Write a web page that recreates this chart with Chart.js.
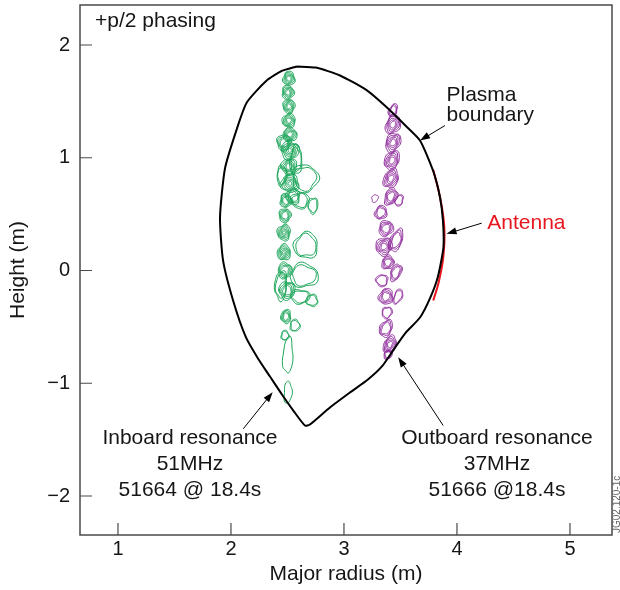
<!DOCTYPE html>
<html>
<head>
<meta charset="utf-8">
<title>+p/2 phasing</title>
<script src="https://cdn.jsdelivr.net/npm/chart.js@4/dist/chart.umd.min.js"></script>
<style>
html,body{margin:0;padding:0;background:#fff;}
#wrap{width:620px;height:590px;}
</style>
</head>
<body>
<div id="wrap"><canvas id="plasmaChart" width="620" height="590"></canvas></div>
<script>

// axis ticks
const xTicks = [1, 2, 3, 4, 5];
const yTicks = [-2, -1, 0, 1, 2];

// plasma boundary (major radius, height in m), closed loop
const boundaryR = [2.58, 2.75, 2.965, 3.2, 3.378, 3.55, 3.673, 3.788, 3.85, 3.876, 3.88, 3.83, 3.76, 3.673,
    3.54, 3.434, 3.336, 3.212, 3.053, 2.876, 2.699, 2.655, 2.558, 2.451, 2.345, 2.239, 2.133, 2.02,
    1.93, 1.903, 1.947, 2.05, 2.14, 2.316, 2.45, 2.58];
const boundaryZ = [1.81, 1.80, 1.73, 1.6, 1.448, 1.28, 1.153, 0.887, 0.65, 0.443, 0.204, -0.06, -0.25, -0.417,
    -0.559, -0.71, -0.851, -0.967, -1.082, -1.215, -1.366, -1.375, -1.251, -1.1, -0.94, -0.78, -0.594, -0.27,
    0.09, 0.47, 0.905, 1.25, 1.49, 1.685, 1.77, 1.81];

// antenna strap
const antennaR = [3.79, 3.85, 3.888, 3.879, 3.835, 3.79];
const antennaZ = [0.893, 0.65, 0.384, 0.118, -0.118, -0.266];

// inboard resonance (51MHz) contour groups: centre, half extent (m), number of levels
const inboardR = [2.513, 2.504, 2.513, 2.513, 2.522, 2.522, 2.513, 2.522, 2.487, 2.478, 2.469, 2.469, 2.478,
    2.496, 2.487, 2.478, 2.655, 2.611, 2.664, 2.646, 2.611, 2.442, 2.504, 2.504,
    2.469, 2.549, 2.575, 2.451, 2.726, 2.717, 2.566];
const inboardZ = [1.703, 1.579, 1.455, 1.330, 1.206, 1.064, 0.922, 0.772, 0.621, 0.488, 0.337, 0.160, 0.0,
    -0.177, -0.408, -0.576, 0.816, 0.621, 0.222, -0.044, -0.231, -0.133, -0.754, -1.082,
    1.135, 0.656, 0.976, 0.843, 0.576, -0.266, -0.488];
const inboardHalfR = [0.053, 0.053, 0.053, 0.058, 0.062, 0.080, 0.071, 0.080, 0.053, 0.053, 0.058, 0.058, 0.062,
    0.071, 0.044, 0.035, 0.115, 0.080, 0.106, 0.124, 0.088, 0.053, 0.044, 0.035,
    0.062, 0.062, 0.053, 0.044, 0.044, 0.053, 0.044];
const inboardHalfZ = [0.062, 0.062, 0.062, 0.062, 0.062, 0.080, 0.071, 0.080, 0.062, 0.062, 0.071, 0.071, 0.071,
    0.080, 0.062, 0.044, 0.124, 0.071, 0.115, 0.106, 0.062, 0.133, 0.160, 0.098,
    0.071, 0.071, 0.133, 0.089, 0.071, 0.053, 0.053];
const inboardLevels = [5, 5, 5, 5, 5, 6, 5, 6, 4, 4, 6, 6, 4, 4, 4, 2, 2, 2, 2, 2, 2, 2, 1, 1,
    4, 3, 2, 2, 2, 2, 2];

// outboard resonance (37MHz) contour groups
const outboardR = [3.434, 3.434, 3.434, 3.425, 3.416, 3.416, 3.274, 3.487, 3.327, 3.372, 3.354, 3.460, 3.389,
    3.460, 3.336, 3.372, 3.478, 3.381, 3.372, 3.407, 3.389];
const outboardZ = [1.419, 1.295, 1.135, 0.976, 0.816, 0.656, 0.639, 0.621, 0.514, 0.373, 0.213, 0.266, 0.071,
    -0.018, -0.089, -0.231, -0.231, -0.373, -0.514, -0.656, -0.745];
const outboardHalfR = [0.035, 0.062, 0.062, 0.062, 0.062, 0.053, 0.027, 0.035, 0.053, 0.062, 0.071, 0.053, 0.053,
    0.044, 0.053, 0.062, 0.035, 0.044, 0.053, 0.053, 0.035];
const outboardHalfZ = [0.062, 0.089, 0.089, 0.089, 0.089, 0.080, 0.035, 0.053, 0.062, 0.071, 0.080, 0.106, 0.062,
    0.080, 0.053, 0.071, 0.071, 0.053, 0.080, 0.080, 0.044];
const outboardLevels = [3, 5, 5, 5, 5, 4, 1, 2, 3, 4, 5, 3, 4, 3, 2, 4, 2, 2, 3, 5, 3];

const FONT = "'Liberation Sans', Arial, Helvetica, sans-serif";
const INK = "#161616";

function zip(a, b) {
    return a.map((v, i) => ({x: v, y: b[i]}));
}

// nested, slightly wavy contour loops around each group centre
function drawContours(ctx, xs, ys, R, Z, hr, hz, lv, color, tilt) {
    ctx.strokeStyle = color;
    ctx.lineWidth = 1;
    for (let i = 0; i < R.length; i++) {
        const cx = xs.getPixelForValue(R[i]);
        const cy = ys.getPixelForValue(Z[i]);
        const rx = Math.abs(xs.getPixelForValue(R[i] + hr[i]) - cx);
        const ry = Math.abs(ys.getPixelForValue(Z[i] + hz[i]) - cy);
        const cosT = Math.cos(tilt), sinT = Math.sin(tilt);
        for (let k = 0; k < lv[i]; k++) {
            const f = 1 - k * 0.16;
            ctx.beginPath();
            for (let s = 0; s <= 48; s++) {
                const t = s / 48 * Math.PI * 2;
                const w = 1 + 0.09 * Math.sin(3 * t + i * 1.7 + k) + 0.05 * Math.sin(5 * t + i * 0.9);
                const ex = Math.cos(t) * rx * f * w;
                const ey = Math.sin(t) * ry * f * w;
                const x = cx + ex * cosT - ey * sinT;
                const y = cy + ex * sinT + ey * cosT;
                if (s === 0) ctx.moveTo(x, y); else ctx.lineTo(x, y);
            }
            ctx.stroke();
        }
    }
}

function arrow(ctx, x1, y1, x2, y2) {
    const a = Math.atan2(y2 - y1, x2 - x1);
    ctx.strokeStyle = "#000";
    ctx.fillStyle = "#000";
    ctx.lineWidth = 1;
    ctx.beginPath();
    ctx.moveTo(x1, y1);
    ctx.lineTo(x2 - 6 * Math.cos(a), y2 - 6 * Math.sin(a));
    ctx.stroke();
    ctx.beginPath();
    ctx.moveTo(x2, y2);
    ctx.lineTo(x2 - 10 * Math.cos(a) + 3.5 * Math.sin(a), y2 - 10 * Math.sin(a) - 3.5 * Math.cos(a));
    ctx.lineTo(x2 - 10 * Math.cos(a) - 3.5 * Math.sin(a), y2 - 10 * Math.sin(a) + 3.5 * Math.cos(a));
    ctx.closePath();
    ctx.fill();
}

const overlay = {
    id: "overlay",
    beforeDatasetsDraw(chart) {
        const ctx = chart.ctx;
        const xs = chart.scales.x, ys = chart.scales.y;
        ctx.save();
        drawContours(ctx, xs, ys, inboardR, inboardZ, inboardHalfR, inboardHalfZ, inboardLevels, "#17a356", 0.05);
        drawContours(ctx, xs, ys, outboardR, outboardZ, outboardHalfR, outboardHalfZ, outboardLevels, "#8f2c9c", 0.42);
        ctx.restore();
    },
    afterDraw(chart) {
        const ctx = chart.ctx;
        const a = chart.chartArea;
        const xs = chart.scales.x, ys = chart.scales.y;
        const px = v => xs.getPixelForValue(v);
        const py = v => ys.getPixelForValue(v);
        ctx.save();

        // frame
        ctx.strokeStyle = "#4a4a4a";
        ctx.lineWidth = 1.5;
        ctx.strokeRect(a.left, a.top, a.right - a.left, a.bottom - a.top);

        // inward tick marks
        ctx.lineWidth = 1.2;
        ctx.beginPath();
        xTicks.forEach(v => { ctx.moveTo(px(v), a.bottom); ctx.lineTo(px(v), a.bottom - 12); });
        yTicks.forEach(v => { ctx.moveTo(a.left, py(v)); ctx.lineTo(a.left + 12, py(v)); });
        ctx.stroke();

        // arrows
        arrow(ctx, px(3.894), py(1.286), px(3.673), py(1.153));
        arrow(ctx, px(4.219), py(0.42), px(3.908), py(0.325));
        arrow(ctx, px(2.109), py(-1.404), px(2.369), py(-1.079));
        arrow(ctx, px(3.878), py(-1.375), px(3.48), py(-0.769));

        // labels
        ctx.font = "21px " + FONT;
        ctx.fillStyle = INK;
        ctx.textBaseline = "alphabetic";
        ctx.textAlign = "left";
        ctx.fillText("+p/2 phasing", a.left + 15, a.top + 22);
        ctx.fillText("Plasma", px(3.907), py(1.504));
        ctx.fillText("boundary", px(3.907), py(1.322));
        ctx.fillStyle = "#e8161e";
        ctx.fillText("Antenna", px(4.268), py(0.3725));
        ctx.fillStyle = INK;
        ctx.textAlign = "center";
        ctx.fillText("Inboard resonance", px(1.637), py(-1.539));
        ctx.fillText("51MHz", px(1.637), py(-1.769));
        ctx.fillText("51664 @ 18.4s", px(1.637), py(-1.996));
        ctx.fillText("Outboard resonance", px(4.354), py(-1.539));
        ctx.fillText("37MHz", px(4.354), py(-1.769));
        ctx.fillText("51666 @18.4s", px(4.354), py(-1.996));

        // figure reference code along the right edge
        ctx.translate(617, 533);
        ctx.rotate(-Math.PI / 2);
        ctx.font = "10px " + FONT;
        ctx.fillStyle = "#666";
        ctx.textBaseline = "middle";
        ctx.textAlign = "left";
        ctx.fillText("JG02.120-1c", 0, 0);
        ctx.restore();
    }
};

const ctx = document.getElementById("plasmaChart").getContext("2d");

new Chart(ctx, {
    type: "scatter",
    data: {
        datasets: [
            {
                label: "Plasma boundary",
                data: zip(boundaryR, boundaryZ),
                showLine: true,
                borderColor: "#000",
                borderWidth: 2,
                pointRadius: 0,
                tension: 0.2
            },
            {
                label: "Antenna",
                data: zip(antennaR, antennaZ),
                showLine: true,
                borderColor: "#e8161e",
                borderWidth: 2,
                pointRadius: 0,
                tension: 0.4
            }
        ]
    },
    options: {
        responsive: false,
        animation: false,
        layout: {padding: {left: 0, top: 5, right: 8, bottom: 0}},
        plugins: {
            legend: {display: false},
            tooltip: {enabled: false}
        },
        scales: {
            x: {
                type: "linear",
                min: 0.664,
                max: 5.372,
                afterBuildTicks: s => { s.ticks = xTicks.map(v => ({value: v})); },
                afterFit: s => { s.height = 55; s.paddingLeft = 0; s.paddingRight = 0; },
                grid: {display: false, drawTicks: false},
                border: {display: false},
                ticks: {
                    color: INK,
                    font: {family: FONT, size: 20},
                    padding: 2,
                    maxRotation: 0
                },
                title: {
                    display: true,
                    text: "Major radius (m)",
                    color: INK,
                    font: {family: FONT, size: 21},
                    padding: {top: 0, bottom: 3}
                }
            },
            y: {
                type: "linear",
                min: -2.346,
                max: 2.355,
                afterBuildTicks: s => { s.ticks = yTicks.map(v => ({value: v})); },
                afterFit: s => { s.width = 80; s.paddingTop = 0; s.paddingBottom = 0; },
                grid: {display: false, drawTicks: false},
                border: {display: false},
                ticks: {
                    color: INK,
                    font: {family: FONT, size: 20},
                    padding: 10,
                    callback: v => v < 0 ? "\u2212" + Math.abs(v) : String(v)
                },
                title: {
                    display: true,
                    text: "Height (m)",
                    color: INK,
                    font: {family: FONT, size: 21},
                    padding: {top: 6, bottom: 0}
                }
            }
        }
    },
    plugins: [overlay]
});
</script>
</body>
</html>
